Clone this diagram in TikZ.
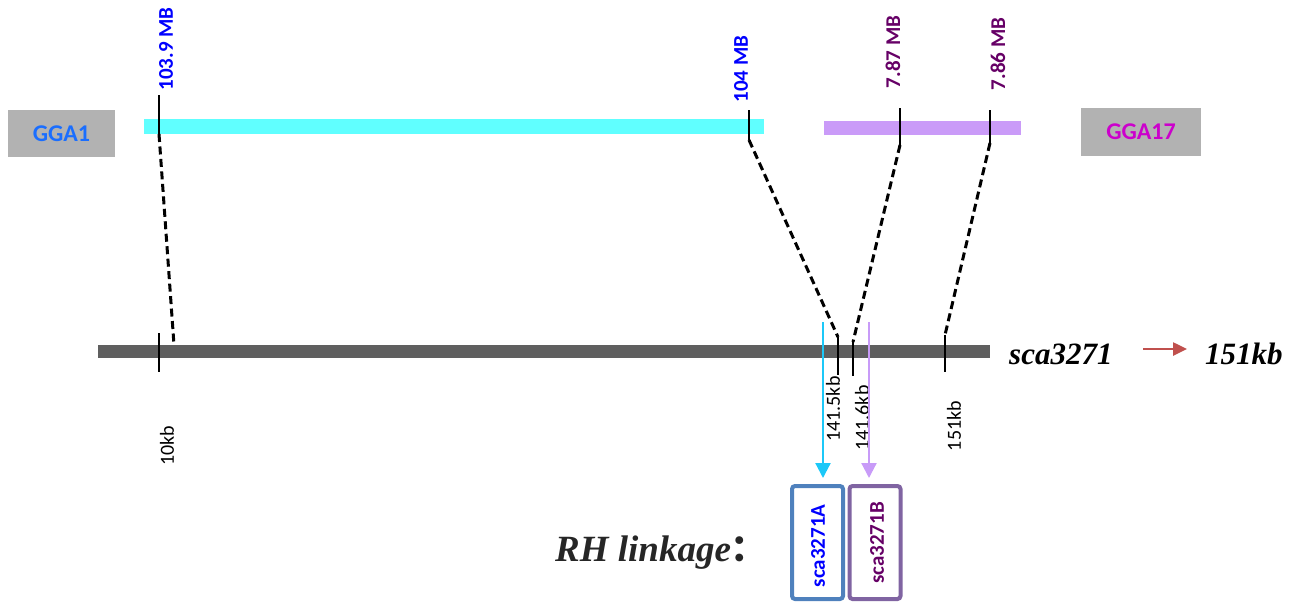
\documentclass[tikz,border=0pt]{standalone}
\usepackage{fontspec}
\setmainfont{Carlito}
\newfontfamily\tnr{Liberation Serif}
\newfontfamily\cjk{Noto Sans CJK SC}
\usetikzlibrary{arrows.meta}
\definecolor{boxgray}{HTML}{B2B2B2}
\definecolor{ggablue}{HTML}{1A6EFF}
\definecolor{ggamag}{HTML}{CC00CC}
\definecolor{cyanbar}{HTML}{60FFFF}
\definecolor{purpbar}{HTML}{CA9BF8}
\definecolor{mainbar}{HTML}{5F5F5F}
\definecolor{mbblue}{HTML}{0000FF}
\definecolor{mbpurp}{HTML}{660066}
\definecolor{arrcyan}{HTML}{1CC8F8}
\definecolor{arrpurp}{HTML}{C89BF8}
\definecolor{boxblue}{HTML}{4F81BD}
\definecolor{boxpurp}{HTML}{8064A2}
\definecolor{redarr}{HTML}{C0504D}
\definecolor{rhgray}{HTML}{262626}
\begin{document}
\begin{tikzpicture}[x=1pt,y=-1pt,
  chrbox/.style={fill=boxgray, inner sep=0pt, font=\fontsize{24}{28}\selectfont\bfseries},
  barnode/.style={inner sep=0pt, outer sep=0pt},
  tickline/.style={line width=2pt, black},
  dsh/.style={line width=3pt, dash pattern=on 8pt off 4.5pt, black},
  mblabel/.style={rotate=90, inner sep=0pt, font=\fontsize{21}{25}\selectfont\bfseries},
  kblabel/.style={rotate=90, inner sep=0pt, font=\fontsize{20}{24}\selectfont},
  downarr/.style={line width=2.2pt, shorten >=6pt, -{Triangle[width=15pt,length=15pt]}},
  linkbox/.style={draw, line width=4pt, rounded corners=3pt, minimum width=51pt, minimum height=113pt, inner sep=0pt},
  linktext/.style={rotate=90, inner sep=0pt, font=\fontsize{21}{25}\selectfont\bfseries},
  serifbi/.style={inner sep=0pt, anchor=base west, font=\fontsize{31}{36}\tnr\bfseries\itshape}
]
\useasboundingbox (0,0) rectangle (1291,603);

% chromosome boxes
\node[chrbox, text=ggablue, minimum width=107pt, minimum height=47pt] (gga1) at (61.5,133.5) {GGA1};
\node[chrbox, text=ggamag, minimum width=120pt, minimum height=48pt] (gga17) at (1141,132) {GGA17};

% bars
\node[barnode, fill=cyanbar, minimum width=620pt, minimum height=15pt] (bar1) at (454,126.5) {};
\node[barnode, fill=purpbar, minimum width=197pt, minimum height=14pt] (bar17) at (922.5,128) {};
\node[barnode, fill=mainbar, minimum width=892pt, minimum height=13pt] (mainb) at (544,351.5) {};

% top ticks
\coordinate (t1a) at (159,95);  \coordinate (t1b) at (159,134);
\coordinate (t2a) at (749,110); \coordinate (t2b) at (749,140);
\coordinate (t3a) at (900,108); \coordinate (t3b) at (900,145);
\coordinate (t4a) at (990,110); \coordinate (t4b) at (990,143);
\draw[tickline] (t1a) -- (t1b);
\draw[tickline] (t2a) -- (t2b);
\draw[tickline] (t3a) -- (t3b);
\draw[tickline] (t4a) -- (t4b);

% bottom ticks
\coordinate (b1a) at (159,333); \coordinate (b1b) at (159,372);
\coordinate (b2a) at (838,337); \coordinate (b2b) at (838,375);
\coordinate (b3a) at (853,342); \coordinate (b3b) at (853,376);
\coordinate (b4a) at (945,335); \coordinate (b4b) at (945,372);
\draw[tickline] (b1a) -- (b1b);
\draw[tickline] (b2a) -- (b2b);
\draw[tickline] (b3a) -- (b3b);
\draw[tickline] (b4a) -- (b4b);

% dashed connectors
\coordinate (d1) at (174,345);
\draw[dsh] (t1b) -- (d1);
\draw[dsh] (t2b) -- (b2a);
\draw[dsh] (t3b) -- (b3a);
\draw[dsh] (t4b) -- (b4a);

% MB labels
\node[mblabel, text=mbblue] (l1) at (166,49) {103.9 MB};
\node[mblabel, text=mbblue] (l2) at (741,69) {104 MB};
\node[mblabel, text=mbpurp] (l3) at (893,52) {7.87 MB};
\node[mblabel, text=mbpurp] (l4) at (998,54) {7.86 MB};

% kb labels
\node[kblabel] (k1) at (167,446) {10kb};
\node[kblabel] (k2) at (833,409) {141.5kb};
\node[kblabel] (k3) at (862,418) {141.6kb};
\node[kblabel] (k4) at (954,426) {151kb};

% linkage boxes
\node[linkbox, draw=boxblue] (boxA) at (817.5,542.5) {};
\node[linkbox, draw=boxpurp] (boxB) at (875,542.5) {};
\node[linktext, text=mbblue] (txA) at (818,546) {sca3271A};
\node[linktext, text=mbpurp] (txB) at (877,543) {sca3271B};

% down arrows
\coordinate (ca) at (823,322);
\coordinate (pa) at (869,322);
\draw[downarr, arrcyan] (ca) -- (ca |- boxA.north);
\draw[downarr, arrpurp] (pa) -- (pa |- boxB.north);

% right labels
\node[serifbi] (sca) at (1009,364) {sca3271};
\node[serifbi] (kb151) at (1205,364) {151kb};
\coordinate (ra) at (1143,349);
\coordinate (rb) at (1187,349);
\draw[line width=2.5pt, redarr, -{Triangle[width=13pt,length=14pt]}] (ra) -- (rb);

% RH linkage
\node[inner sep=0pt, anchor=base west, text=rhgray, font=\fontsize{37}{42}\tnr\bfseries\itshape] (rh) at (555,561) {RH linkage{\cjk ：}};
\end{tikzpicture}
\end{document}
